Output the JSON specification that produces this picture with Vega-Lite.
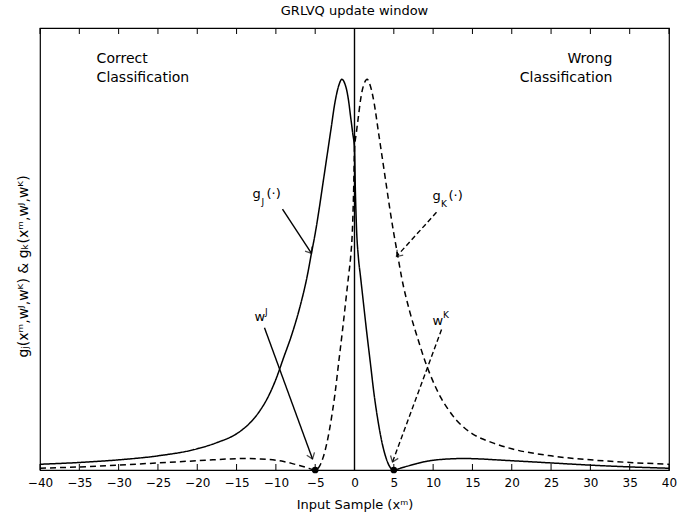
{
  "$schema": "https://vega.github.io/schema/vega-lite/v6.json",
  "width": 629,
  "height": 442,
  "autosize": {"type": "none"},
  "padding": {"left": 40, "top": 28, "right": 9, "bottom": 47},
  "background": "white",
  "title": {"text": "GRLVQ update window", "font": "DejaVu Sans", "fontSize": 13, "fontWeight": "normal", "color": "black", "offset": 9, "anchor": "middle"},
  "config": {
    "view": {"stroke": "black", "strokeWidth": 1.2},
    "font": "DejaVu Sans",
    "axis": {"grid": false, "labelColor": "black", "tickColor": "black", "titleColor": "black", "domain": false}
  },
  "datasets": {
    "curves": [
      {"x": -40, "y": 0.013, "s": "gJ"}, {"x": -35, "y": 0.017, "s": "gJ"}, {"x": -30, "y": 0.023, "s": "gJ"},
      {"x": -25, "y": 0.032, "s": "gJ"}, {"x": -20, "y": 0.048, "s": "gJ"}, {"x": -17.5, "y": 0.062, "s": "gJ"},
      {"x": -15, "y": 0.082, "s": "gJ"}, {"x": -14, "y": 0.095, "s": "gJ"}, {"x": -13, "y": 0.112, "s": "gJ"},
      {"x": -12, "y": 0.135, "s": "gJ"}, {"x": -11, "y": 0.165, "s": "gJ"}, {"x": -10, "y": 0.205, "s": "gJ"},
      {"x": -9, "y": 0.255, "s": "gJ"}, {"x": -8, "y": 0.305, "s": "gJ"}, {"x": -7, "y": 0.365, "s": "gJ"},
      {"x": -6, "y": 0.44, "s": "gJ"}, {"x": -5.5, "y": 0.488, "s": "gJ"}, {"x": -5, "y": 0.535, "s": "gJ"},
      {"x": -4.5, "y": 0.59, "s": "gJ"}, {"x": -4, "y": 0.65, "s": "gJ"}, {"x": -3.5, "y": 0.71, "s": "gJ"},
      {"x": -3, "y": 0.77, "s": "gJ"}, {"x": -2.5, "y": 0.83, "s": "gJ"}, {"x": -2, "y": 0.87, "s": "gJ"},
      {"x": -1.6, "y": 0.884, "s": "gJ"}, {"x": -1.25, "y": 0.875, "s": "gJ"}, {"x": -1, "y": 0.86, "s": "gJ"},
      {"x": -0.75, "y": 0.835, "s": "gJ"}, {"x": -0.5, "y": 0.8, "s": "gJ"}, {"x": -0.25, "y": 0.765, "s": "gJ"},
      {"x": 0, "y": 0.725, "s": "gJ"}, {"x": 0.1, "y": 0.64, "s": "gJ"}, {"x": 0.25, "y": 0.55, "s": "gJ"},
      {"x": 0.5, "y": 0.48, "s": "gJ"}, {"x": 0.75, "y": 0.44, "s": "gJ"}, {"x": 1, "y": 0.4, "s": "gJ"},
      {"x": 1.5, "y": 0.32, "s": "gJ"}, {"x": 2, "y": 0.245, "s": "gJ"}, {"x": 2.5, "y": 0.17, "s": "gJ"},
      {"x": 3, "y": 0.11, "s": "gJ"}, {"x": 3.5, "y": 0.062, "s": "gJ"}, {"x": 4, "y": 0.028, "s": "gJ"},
      {"x": 4.5, "y": 0.007, "s": "gJ"}, {"x": 5, "y": 0, "s": "gJ"}, {"x": 5.5, "y": 0.002, "s": "gJ"},
      {"x": 6, "y": 0.005, "s": "gJ"}, {"x": 7, "y": 0.01, "s": "gJ"}, {"x": 8, "y": 0.015, "s": "gJ"},
      {"x": 9, "y": 0.019, "s": "gJ"}, {"x": 10, "y": 0.022, "s": "gJ"}, {"x": 12, "y": 0.025, "s": "gJ"},
      {"x": 14, "y": 0.026, "s": "gJ"}, {"x": 16, "y": 0.025, "s": "gJ"}, {"x": 18, "y": 0.023, "s": "gJ"},
      {"x": 20, "y": 0.021, "s": "gJ"}, {"x": 25, "y": 0.016, "s": "gJ"}, {"x": 30, "y": 0.011, "s": "gJ"},
      {"x": 35, "y": 0.007, "s": "gJ"}, {"x": 40, "y": 0.004, "s": "gJ"},
      {"x": 40, "y": 0.013, "s": "gK"}, {"x": 35, "y": 0.017, "s": "gK"}, {"x": 30, "y": 0.023, "s": "gK"},
      {"x": 25, "y": 0.032, "s": "gK"}, {"x": 20, "y": 0.048, "s": "gK"}, {"x": 17.5, "y": 0.062, "s": "gK"},
      {"x": 15, "y": 0.082, "s": "gK"}, {"x": 14, "y": 0.095, "s": "gK"}, {"x": 13, "y": 0.112, "s": "gK"},
      {"x": 12, "y": 0.135, "s": "gK"}, {"x": 11, "y": 0.163, "s": "gK"}, {"x": 10, "y": 0.2, "s": "gK"},
      {"x": 9, "y": 0.245, "s": "gK"}, {"x": 8, "y": 0.3, "s": "gK"}, {"x": 7, "y": 0.36, "s": "gK"},
      {"x": 6, "y": 0.435, "s": "gK"}, {"x": 5.5, "y": 0.485, "s": "gK"}, {"x": 5, "y": 0.535, "s": "gK"},
      {"x": 4.5, "y": 0.59, "s": "gK"}, {"x": 4, "y": 0.65, "s": "gK"}, {"x": 3.5, "y": 0.71, "s": "gK"},
      {"x": 3, "y": 0.77, "s": "gK"}, {"x": 2.5, "y": 0.83, "s": "gK"}, {"x": 2, "y": 0.87, "s": "gK"},
      {"x": 1.6, "y": 0.884, "s": "gK"}, {"x": 1.25, "y": 0.875, "s": "gK"}, {"x": 1, "y": 0.86, "s": "gK"},
      {"x": 0.75, "y": 0.835, "s": "gK"}, {"x": 0.5, "y": 0.8, "s": "gK"}, {"x": 0.25, "y": 0.765, "s": "gK"},
      {"x": 0, "y": 0.725, "s": "gK"}, {"x": -0.1, "y": 0.64, "s": "gK"}, {"x": -0.25, "y": 0.55, "s": "gK"},
      {"x": -0.5, "y": 0.48, "s": "gK"}, {"x": -0.75, "y": 0.44, "s": "gK"}, {"x": -1, "y": 0.4, "s": "gK"},
      {"x": -1.5, "y": 0.32, "s": "gK"}, {"x": -2, "y": 0.245, "s": "gK"}, {"x": -2.5, "y": 0.17, "s": "gK"},
      {"x": -3, "y": 0.11, "s": "gK"}, {"x": -3.5, "y": 0.062, "s": "gK"}, {"x": -4, "y": 0.028, "s": "gK"},
      {"x": -4.5, "y": 0.007, "s": "gK"}, {"x": -5, "y": 0, "s": "gK"}, {"x": -5.5, "y": 0.002, "s": "gK"},
      {"x": -6, "y": 0.005, "s": "gK"}, {"x": -7, "y": 0.01, "s": "gK"}, {"x": -8, "y": 0.015, "s": "gK"},
      {"x": -9, "y": 0.019, "s": "gK"}, {"x": -10, "y": 0.022, "s": "gK"}, {"x": -12, "y": 0.025, "s": "gK"},
      {"x": -14, "y": 0.026, "s": "gK"}, {"x": -16, "y": 0.025, "s": "gK"}, {"x": -18, "y": 0.023, "s": "gK"},
      {"x": -20, "y": 0.021, "s": "gK"}, {"x": -25, "y": 0.016, "s": "gK"}, {"x": -30, "y": 0.011, "s": "gK"},
      {"x": -35, "y": 0.007, "s": "gK"}, {"x": -40, "y": 0.004, "s": "gK"}
    ],
    "prototypes": [{"x": -5, "y": 0}, {"x": 5, "y": 0}],
    "segments": [
      {"a": "zero", "x": 0, "y": 0, "x2": 0, "y2": 1},
      {"a": "gJ", "x": -9.16, "y": 0.59, "x2": -5.47, "y2": 0.49},
      {"a": "wJ", "x": -11.45, "y": 0.322, "x2": -5.34, "y2": 0.025},
      {"a": "gK", "x": 10.43, "y": 0.583, "x2": 5.34, "y2": 0.483},
      {"a": "wK", "x": 11.07, "y": 0.318, "x2": 4.83, "y2": 0.018}
    ],
    "heads": [
      {"a": "gJ", "x": -5.47, "y": 0.49},
      {"a": "wJ", "x": -5.34, "y": 0.025},
      {"a": "gK", "x": 5.34, "y": 0.483},
      {"a": "wK", "x": 4.83, "y": 0.018}
    ],
    "ticks": [
      {"x": -40, "y": 0}, {"x": -35, "y": 0}, {"x": -30, "y": 0}, {"x": -25, "y": 0}, {"x": -20, "y": 0},
      {"x": -15, "y": 0}, {"x": -10, "y": 0}, {"x": -5, "y": 0}, {"x": 0, "y": 0}, {"x": 5, "y": 0},
      {"x": 10, "y": 0}, {"x": 15, "y": 0}, {"x": 20, "y": 0}, {"x": 25, "y": 0}, {"x": 30, "y": 0},
      {"x": 35, "y": 0}, {"x": 40, "y": 0},
      {"x": -40, "y": 1}, {"x": -35, "y": 1}, {"x": -30, "y": 1}, {"x": -25, "y": 1}, {"x": -20, "y": 1},
      {"x": -15, "y": 1}, {"x": -10, "y": 1}, {"x": -5, "y": 1}, {"x": 0, "y": 1}, {"x": 5, "y": 1},
      {"x": 10, "y": 1}, {"x": 15, "y": 1}, {"x": 20, "y": 1}, {"x": 25, "y": 1}, {"x": 30, "y": 1},
      {"x": 35, "y": 1}, {"x": 40, "y": 1}
    ],
    "leftText": [
      {"x": -32.8, "y": 0.921, "t": "Correct"},
      {"x": -32.8, "y": 0.878, "t": "Classification"}
    ],
    "rightText": [
      {"x": 32.8, "y": 0.921, "t": "Wrong"},
      {"x": 32.8, "y": 0.878, "t": "Classification"}
    ],
    "baseText": [
      {"x": -12.97, "y": 0.6145, "t": "g"},
      {"x": -11.19, "y": 0.6145, "t": "(·)"},
      {"x": 9.92, "y": 0.61, "t": "g"},
      {"x": 11.96, "y": 0.61, "t": "(·)"},
      {"x": -12.72, "y": 0.336, "t": "w"},
      {"x": 9.92, "y": 0.329, "t": "w"}
    ],
    "smallText": [
      {"x": -11.83, "y": 0.599, "t": "J"},
      {"x": 11.0, "y": 0.594, "t": "K"},
      {"x": -11.38, "y": 0.351, "t": "J"},
      {"x": 11.26, "y": 0.345, "t": "K"}
    ]
  },
  "encoding": {
    "x": {
      "field": "x", "type": "quantitative",
      "scale": {"domain": [-40, 40], "nice": false},
      "axis": {
        "values": [-40, -35, -30, -25, -20, -15, -10, -5, 0, 5, 10, 15, 20, 25, 30, 35, 40],
        "title": "Input Sample (xᵐ)",
        "ticks": false, "labelPadding": 7, "labelFlush": false, "labelOverlap": false,
        "labelFont": "DejaVu Sans", "labelFontSize": 12,
        "titleFont": "DejaVu Sans", "titleFontSize": 13, "titleFontWeight": "normal", "titlePadding": 10
      }
    },
    "y": {
      "field": "y", "type": "quantitative",
      "scale": {"domain": [0, 1], "nice": false, "zero": false},
      "axis": {
        "labels": false, "ticks": false, "domain": false,
        "title": "gⱼ(xᵐ,wᴶ,wᴷ) & gₖ(xᵐ,wᴶ,wᴷ)",
        "titleFont": "DejaVu Sans", "titleFontSize": 14, "titleFontWeight": "normal", "titlePadding": 10,
        "titleY": 238
      }
    }
  },
  "layer": [
    {
      "data": {"name": "curves"},
      "mark": {"type": "line", "color": "black", "strokeWidth": 1.5, "interpolate": "monotone", "clip": true},
      "encoding": {
        "strokeDash": {
          "field": "s", "type": "nominal",
          "scale": {"domain": ["gJ", "gK"], "range": [[1, 0], [6, 4]]},
          "legend": null
        }
      }
    },
    {
      "data": {"name": "ticks"},
      "transform": [{"filter": "datum.y === 0"}],
      "mark": {"type": "rule", "color": "black", "strokeWidth": 1, "y2Offset": -6},
      "encoding": {"y2": {"field": "y"}}
    },
    {
      "data": {"name": "ticks"},
      "transform": [{"filter": "datum.y === 1"}],
      "mark": {"type": "rule", "color": "black", "strokeWidth": 1, "y2Offset": 6},
      "encoding": {"y2": {"field": "y"}}
    },
    {
      "data": {"name": "segments"},
      "transform": [{"filter": "datum.a === 'zero' || datum.a === 'gJ' || datum.a === 'wJ'"}],
      "mark": {"type": "rule", "color": "black", "strokeWidth": 1.4},
      "encoding": {"x2": {"field": "x2"}, "y2": {"field": "y2"}}
    },
    {
      "data": {"name": "segments"},
      "transform": [{"filter": "datum.a === 'gK' || datum.a === 'wK'"}],
      "mark": {"type": "rule", "color": "black", "strokeWidth": 1.4, "strokeDash": [5, 3]},
      "encoding": {"x2": {"field": "x2"}, "y2": {"field": "y2"}}
    },
    {
      "data": {"name": "heads"},
      "transform": [{"filter": "datum.a === 'gJ'"}],
      "mark": {"type": "point", "shape": "M -1 -0.75 L 0 0 L -1 0.75", "filled": false, "stroke": "black", "strokeWidth": 1.3, "size": 120, "angle": 56.6}
    },
    {
      "data": {"name": "heads"},
      "transform": [{"filter": "datum.a === 'wJ'"}],
      "mark": {"type": "point", "shape": "M -1 -0.75 L 0 0 L -1 0.75", "filled": false, "stroke": "black", "strokeWidth": 1.3, "size": 120, "angle": 69.9}
    },
    {
      "data": {"name": "heads"},
      "transform": [{"filter": "datum.a === 'gK'"}],
      "mark": {"type": "point", "shape": "M -1 -0.75 L 0 0 L -1 0.75", "filled": false, "stroke": "black", "strokeWidth": 1.3, "size": 120, "angle": 132.3}
    },
    {
      "data": {"name": "heads"},
      "transform": [{"filter": "datum.a === 'wK'"}],
      "mark": {"type": "point", "shape": "M -1 -0.75 L 0 0 L -1 0.75", "filled": false, "stroke": "black", "strokeWidth": 1.3, "size": 120, "angle": 110.4}
    },
    {
      "data": {"name": "prototypes"},
      "mark": {"type": "point", "filled": true, "color": "black", "size": 45, "opacity": 1}
    },
    {
      "data": {"name": "leftText"},
      "mark": {"type": "text", "align": "left", "baseline": "alphabetic", "font": "DejaVu Sans", "fontSize": 14, "color": "black"},
      "encoding": {"text": {"field": "t"}}
    },
    {
      "data": {"name": "rightText"},
      "mark": {"type": "text", "align": "right", "baseline": "alphabetic", "font": "DejaVu Sans", "fontSize": 14, "color": "black"},
      "encoding": {"text": {"field": "t"}}
    },
    {
      "data": {"name": "baseText"},
      "mark": {"type": "text", "align": "left", "baseline": "alphabetic", "font": "DejaVu Sans", "fontSize": 13, "color": "black"},
      "encoding": {"text": {"field": "t"}}
    },
    {
      "data": {"name": "smallText"},
      "mark": {"type": "text", "align": "left", "baseline": "alphabetic", "font": "DejaVu Sans", "fontSize": 9, "color": "black"},
      "encoding": {"text": {"field": "t"}}
    }
  ]
}
